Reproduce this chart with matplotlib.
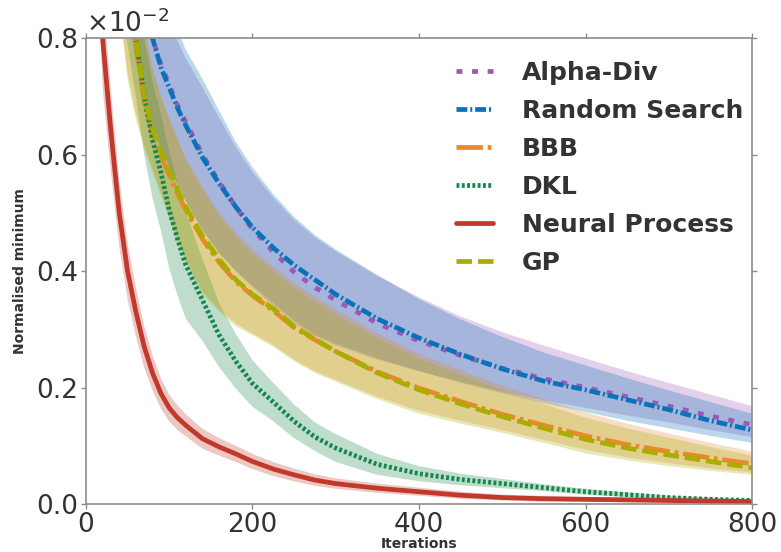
import matplotlib
matplotlib.use("Agg")
import matplotlib.pyplot as plt

# Iterations at which every method was evaluated
iterations = [10, 20, 30, 40, 50, 60, 70, 80, 90, 100, 110, 120, 140, 160, 180, 200,
              225, 250, 275, 300, 350, 400, 450, 500, 550, 600, 650, 700, 750, 800]

# Normalised minimum (x 1e-2): mean, lower and upper band for each method
alpha_div_mean = [2.0, 1.7, 1.45, 1.25, 1.08, 0.96, 0.87, 0.80, 0.755, 0.72, 0.685, 0.655, 0.60, 0.553, 0.51, 0.472,
                  0.433, 0.398, 0.372, 0.35, 0.31, 0.28, 0.255, 0.233, 0.215, 0.2, 0.184, 0.168, 0.151, 0.136]
alpha_div_low = [1.7, 1.45, 1.2, 1.0, 0.85, 0.76, 0.70, 0.65, 0.61, 0.58, 0.55, 0.52, 0.47, 0.432, 0.40, 0.372,
                 0.34, 0.31, 0.288, 0.272, 0.248, 0.228, 0.21, 0.193, 0.178, 0.165, 0.152, 0.14, 0.127, 0.115]
alpha_div_high = [2.4, 2.1, 1.8, 1.55, 1.33, 1.16, 1.03, 0.93, 0.87, 0.83, 0.795, 0.765, 0.715, 0.663, 0.613, 0.57,
                  0.526, 0.488, 0.458, 0.434, 0.392, 0.355, 0.322, 0.295, 0.272, 0.25, 0.228, 0.208, 0.188, 0.168]

random_mean = [2.0, 1.7, 1.45, 1.25, 1.08, 0.96, 0.87, 0.80, 0.75, 0.715, 0.68, 0.65, 0.595, 0.55, 0.51, 0.475,
               0.44, 0.41, 0.385, 0.36, 0.318, 0.285, 0.257, 0.232, 0.211, 0.196, 0.179, 0.162, 0.143, 0.127]
random_low = [1.7, 1.45, 1.2, 1.0, 0.85, 0.76, 0.70, 0.65, 0.61, 0.58, 0.55, 0.52, 0.47, 0.43, 0.40, 0.375,
              0.345, 0.315, 0.29, 0.275, 0.25, 0.228, 0.208, 0.19, 0.173, 0.158, 0.143, 0.13, 0.117, 0.105]
random_high = [2.4, 2.1, 1.8, 1.55, 1.35, 1.18, 1.05, 0.95, 0.89, 0.85, 0.815, 0.78, 0.73, 0.675, 0.622, 0.578,
               0.532, 0.493, 0.462, 0.437, 0.393, 0.352, 0.317, 0.287, 0.26, 0.238, 0.216, 0.195, 0.175, 0.155]

bbb_mean = [2.0, 1.7, 1.4, 1.1, 0.91, 0.79, 0.69, 0.635, 0.598, 0.565, 0.533, 0.505, 0.455, 0.415, 0.382, 0.358,
            0.332, 0.303, 0.282, 0.262, 0.227, 0.199, 0.176, 0.154, 0.135, 0.117, 0.102, 0.09, 0.079, 0.069]
bbb_low = [1.6, 1.35, 1.1, 0.86, 0.74, 0.67, 0.615, 0.575, 0.535, 0.495, 0.455, 0.42, 0.365, 0.335, 0.31, 0.293,
           0.273, 0.248, 0.228, 0.213, 0.184, 0.16, 0.143, 0.127, 0.11, 0.093, 0.08, 0.07, 0.061, 0.054]
bbb_high = [2.4, 2.0, 1.7, 1.4, 1.1, 0.94, 0.815, 0.745, 0.70, 0.662, 0.628, 0.595, 0.545, 0.5, 0.466, 0.438,
            0.408, 0.38, 0.356, 0.334, 0.293, 0.258, 0.23, 0.203, 0.18, 0.157, 0.138, 0.121, 0.105, 0.09]

dkl_mean = [1.6, 1.35, 1.15, 1.0, 0.89, 0.80, 0.70, 0.625, 0.57, 0.505, 0.455, 0.41, 0.35, 0.29, 0.245, 0.207,
            0.175, 0.142, 0.115, 0.096, 0.068, 0.052, 0.042, 0.035, 0.028, 0.021, 0.016, 0.011, 0.008, 0.006]
dkl_low = [1.5, 1.25, 1.05, 0.9, 0.79, 0.70, 0.60, 0.525, 0.47, 0.405, 0.358, 0.318, 0.28, 0.235, 0.198, 0.167,
           0.142, 0.113, 0.091, 0.072, 0.05, 0.039, 0.032, 0.027, 0.022, 0.016, 0.012, 0.008, 0.005, 0.004]
dkl_high = [1.7, 1.45, 1.25, 1.1, 0.99, 0.90, 0.80, 0.725, 0.67, 0.605, 0.552, 0.502, 0.42, 0.345, 0.292, 0.247,
            0.208, 0.171, 0.14, 0.12, 0.086, 0.065, 0.052, 0.043, 0.034, 0.026, 0.02, 0.014, 0.011, 0.008]

neural_mean = [1.15, 0.80, 0.64, 0.50, 0.40, 0.33, 0.27, 0.225, 0.19, 0.165, 0.148, 0.135, 0.112, 0.098, 0.086, 0.073,
               0.06, 0.05, 0.041, 0.035, 0.027, 0.021, 0.015, 0.011, 0.009, 0.008, 0.007, 0.006, 0.005, 0.004]
neural_low = [1.06, 0.715, 0.57, 0.442, 0.352, 0.288, 0.234, 0.195, 0.164, 0.142, 0.127, 0.116, 0.095, 0.083, 0.072, 0.06,
              0.048, 0.039, 0.031, 0.026, 0.019, 0.014, 0.009, 0.006, 0.004, 0.004, 0.003, 0.002, 0.002, 0.001]
neural_high = [1.24, 0.885, 0.71, 0.558, 0.448, 0.372, 0.306, 0.255, 0.216, 0.188, 0.169, 0.154, 0.129, 0.113, 0.1, 0.086,
               0.072, 0.061, 0.051, 0.044, 0.035, 0.028, 0.021, 0.016, 0.014, 0.012, 0.011, 0.01, 0.008, 0.007]

gp_mean = [2.0, 1.7, 1.4, 1.12, 0.92, 0.80, 0.70, 0.645, 0.605, 0.573, 0.54, 0.51, 0.46, 0.42, 0.385, 0.36,
           0.335, 0.305, 0.283, 0.262, 0.225, 0.196, 0.172, 0.15, 0.13, 0.111, 0.096, 0.084, 0.073, 0.062]
gp_low = [1.6, 1.35, 1.1, 0.85, 0.73, 0.66, 0.61, 0.57, 0.53, 0.49, 0.45, 0.415, 0.36, 0.33, 0.305, 0.29,
          0.27, 0.245, 0.225, 0.21, 0.18, 0.155, 0.138, 0.122, 0.105, 0.087, 0.075, 0.065, 0.057, 0.05]
gp_high = [2.4, 2.0, 1.7, 1.4, 1.1, 0.95, 0.82, 0.75, 0.70, 0.66, 0.625, 0.59, 0.54, 0.495, 0.46, 0.43,
           0.40, 0.372, 0.348, 0.326, 0.285, 0.25, 0.222, 0.195, 0.172, 0.148, 0.13, 0.114, 0.098, 0.083]

labels = ["Alpha-Div", "Random Search", "BBB", "DKL", "Neural Process", "GP"]
colors = ["#9b59b6", "#0a72ba", "#e8892b", "#17884d", "#c0392b", "#a8ad00"]
dashes = [(1.25, 2.05), (2.3, 0.62, 0.42, 0.62), (5.6, 1.0, 0.8, 1.0), (0.62, 0.5), None, (3.3, 1.25)]

means = [alpha_div_mean, random_mean, bbb_mean, dkl_mean, neural_mean, gp_mean]
lows = [alpha_div_low, random_low, bbb_low, dkl_low, neural_low, gp_low]
highs = [alpha_div_high, random_high, bbb_high, dkl_high, neural_high, gp_high]

fig = plt.figure(figsize=(7.81, 5.52), dpi=100)
ax = fig.add_axes([0.110, 0.087, 0.853, 0.844])

for lo, hi, c in zip(lows, highs, colors):
    ax.fill_between(iterations, lo, hi, color=c, alpha=0.28, linewidth=0)

for m, c, d, lab in zip(means, colors, dashes, labels):
    if d is None:
        ax.plot(iterations, m, color=c, lw=3.4, solid_capstyle="round", label=lab)
    else:
        ax.plot(iterations, m, color=c, lw=3.4, dashes=d, label=lab)

ax.set_xlim(0, 800)
ax.set_ylim(0, 0.8)
ax.set_xticks([0, 200, 400, 600, 800])
ax.set_yticks([0.0, 0.2, 0.4, 0.6, 0.8])
ax.set_yticklabels(["0.0", "0.2", "0.4", "0.6", "0.8"])

for s in ax.spines.values():
    s.set_color("#8c8c8c")
    s.set_linewidth(1.2)
ax.tick_params(axis="both", which="both", direction="out", length=3.5, width=1,
               color="#8c8c8c", labelsize=19, labelcolor="#333333",
               top=True, right=True, pad=2)

ax.text(0.0, 1.0, r"$\times10^{-2}$", transform=ax.transAxes, ha="left", va="bottom",
        fontsize=19, color="#333333")

ax.set_xlabel("Iterations", fontsize=10, fontweight="bold", color="#333333")
ax.xaxis.set_label_coords(0.5, -0.071)
ax.set_ylabel("Normalised minimum", fontsize=10, fontweight="bold", color="#333333")
ax.yaxis.set_label_coords(-0.089, 0.5)

leg = ax.legend(loc="upper right", bbox_to_anchor=(1.002, 0.972), frameon=False,
                prop={"size": 18, "weight": "bold"}, handlelength=1.48, handletextpad=1.16,
                labelspacing=0.56, borderaxespad=0.0)
for t in leg.get_texts():
    t.set_color("#333333")

fig.savefig("out.png", dpi=100)
